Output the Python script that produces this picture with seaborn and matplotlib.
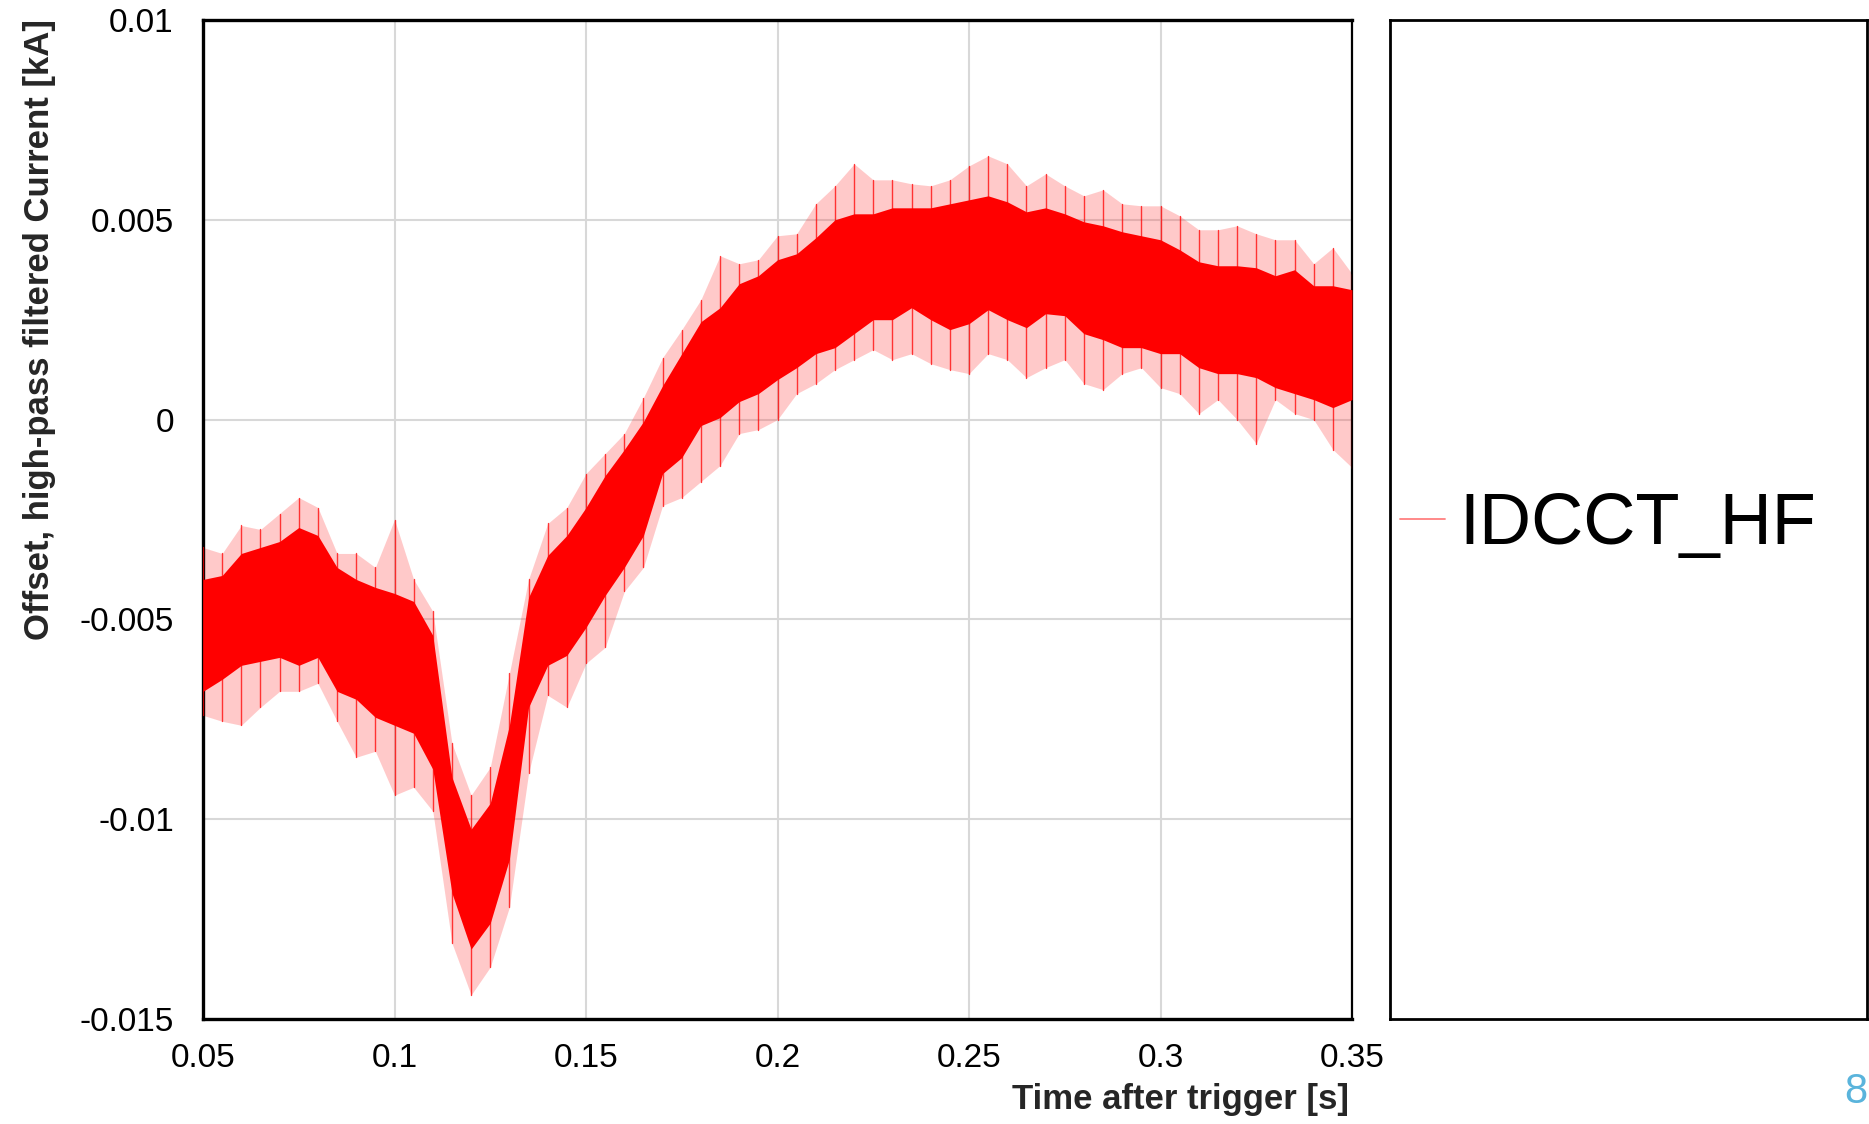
import numpy as np
import pandas as pd
import matplotlib
matplotlib.use("Agg")
import matplotlib.pyplot as plt
import seaborn as sns
from matplotlib.ticker import MultipleLocator

# ---------------- data (kA) ----------------
time_s = [0.050, 0.055, 0.060, 0.065, 0.070, 0.075, 0.080, 0.085, 0.090, 0.095,
          0.100, 0.105, 0.110, 0.115, 0.120, 0.125, 0.130, 0.135, 0.140, 0.145,
          0.150, 0.155, 0.160, 0.165, 0.170, 0.175, 0.180, 0.185, 0.190, 0.195,
          0.200, 0.205, 0.210, 0.215, 0.220, 0.225, 0.230, 0.235, 0.240, 0.245,
          0.250, 0.255, 0.260, 0.265, 0.270, 0.275, 0.280, 0.285, 0.290, 0.295,
          0.300, 0.305, 0.310, 0.315, 0.320, 0.325, 0.330, 0.335, 0.340, 0.345,
          0.350]

# outer extent of the noise spikes (upper)
spike_hi = [-0.00320, -0.00335, -0.00265, -0.00275, -0.00235, -0.00195, -0.00220, -0.00335, -0.00335, -0.00370,
            -0.00250, -0.00400, -0.00480, -0.00810, -0.00940, -0.00870, -0.00635, -0.00400, -0.00260, -0.00220,
            -0.00135, -0.00085, -0.00035, 0.00055, 0.00155, 0.00225, 0.00300, 0.00410, 0.00390, 0.00400,
            0.00460, 0.00465, 0.00540, 0.00585, 0.00640, 0.00600, 0.00600, 0.00590, 0.00585, 0.00600,
            0.00635, 0.00660, 0.00640, 0.00585, 0.00615, 0.00585, 0.00560, 0.00575, 0.00540, 0.00535,
            0.00535, 0.00510, 0.00475, 0.00475, 0.00485, 0.00465, 0.00450, 0.00450, 0.00390, 0.00430,
            0.00365]

# dense core of the trace (upper edge)
core_hi = [-0.00400, -0.00390, -0.00335, -0.00320, -0.00305, -0.00270, -0.00290, -0.00370, -0.00400, -0.00420,
           -0.00435, -0.00455, -0.00540, -0.00895, -0.01025, -0.00960, -0.00765, -0.00445, -0.00340, -0.00290,
           -0.00220, -0.00140, -0.00075, -0.00005, 0.00085, 0.00165, 0.00245, 0.00280, 0.00340, 0.00360,
           0.00400, 0.00415, 0.00455, 0.00500, 0.00515, 0.00515, 0.00530, 0.00530, 0.00530, 0.00540,
           0.00550, 0.00560, 0.00545, 0.00520, 0.00530, 0.00515, 0.00495, 0.00485, 0.00470, 0.00460,
           0.00450, 0.00425, 0.00395, 0.00385, 0.00385, 0.00380, 0.00360, 0.00375, 0.00335, 0.00335,
           0.00325]

# dense core of the trace (lower edge)
core_lo = [-0.00680, -0.00650, -0.00615, -0.00605, -0.00595, -0.00615, -0.00595, -0.00680, -0.00700, -0.00745,
           -0.00765, -0.00785, -0.00875, -0.01185, -0.01325, -0.01260, -0.01100, -0.00720, -0.00615, -0.00590,
           -0.00520, -0.00440, -0.00370, -0.00290, -0.00135, -0.00095, -0.00015, 0.00005, 0.00045, 0.00065,
           0.00100, 0.00130, 0.00165, 0.00180, 0.00215, 0.00250, 0.00250, 0.00280, 0.00250, 0.00225,
           0.00240, 0.00275, 0.00250, 0.00230, 0.00265, 0.00260, 0.00215, 0.00200, 0.00180, 0.00180,
           0.00165, 0.00165, 0.00130, 0.00115, 0.00115, 0.00105, 0.00080, 0.00065, 0.00050, 0.00030,
           0.00050]

# outer extent of the noise spikes (lower)
spike_lo = [-0.00740, -0.00755, -0.00765, -0.00720, -0.00680, -0.00680, -0.00660, -0.00755, -0.00845, -0.00830,
            -0.00940, -0.00920, -0.00980, -0.01310, -0.01440, -0.01370, -0.01220, -0.00885, -0.00690, -0.00720,
            -0.00610, -0.00570, -0.00430, -0.00370, -0.00215, -0.00195, -0.00155, -0.00115, -0.00035, -0.00025,
            0.00000, 0.00065, 0.00090, 0.00125, 0.00150, 0.00175, 0.00150, 0.00165, 0.00140, 0.00125,
            0.00115, 0.00165, 0.00150, 0.00105, 0.00130, 0.00150, 0.00090, 0.00075, 0.00115, 0.00130,
            0.00080, 0.00065, 0.00015, 0.00050, 0.00000, -0.00060, 0.00050, 0.00015, 0.00000, -0.00075,
            -0.00120]

series_label = "IDCCT_HF"
x_ticks = [0.05, 0.1, 0.15, 0.2, 0.25, 0.3, 0.35]
x_tick_labels = ["0.05", "0.1", "0.15", "0.2", "0.25", "0.3", "0.35"]
y_ticks = [-0.015, -0.01, -0.005, 0, 0.005, 0.01]
y_tick_labels = ["-0.015", "-0.01", "-0.005", "0", "0.005", "0.01"]
x_label = "Time after trigger [s]"
y_label = "Offset, high-pass filtered Current [kA]"
slide_number = "8"

# ---------------- figure ----------------
sns.set_theme(style="white")
plt.rcParams["font.family"] = ["Liberation Sans", "DejaVu Sans"]

W, H = 1869, 1124
fig = plt.figure(figsize=(W / 100, H / 100), dpi=100)
fig.patch.set_facecolor("white")

ax_l, ax_r, ax_t, ax_b = 203, 1352, 20, 1019
ax = fig.add_axes([ax_l / W, 1 - ax_b / H, (ax_r - ax_l) / W, (ax_b - ax_t) / H])

# envelope bands
ax.fill_between(time_s, spike_lo, spike_hi, color="#ff4040", alpha=0.28, lw=0, zorder=2)
ax.fill_between(time_s, core_lo, core_hi, color="#ff0000", lw=0, zorder=3)

# the measured trace: vertical swing between the read extremes at each sample
seg_t, seg_v, seg_u = [], [], []
for i, t in enumerate(time_s):
    seg_t += [t, t]
    seg_v += [spike_lo[i], spike_hi[i]]
    seg_u += [i, i]
df = pd.DataFrame({"t": seg_t, "v": seg_v, "u": seg_u})
sns.lineplot(data=df, x="t", y="v", units="u", estimator=None, sort=False,
             color="#ff0000", lw=1.0, alpha=0.75, ax=ax, zorder=4, legend=False)

ax.set_xlim(0.05, 0.35)
ax.set_ylim(-0.015, 0.01)
ax.set_xticks(x_ticks)
ax.set_xticklabels(x_tick_labels)
ax.set_yticks(y_ticks)
ax.set_yticklabels(y_tick_labels)
ax.xaxis.set_minor_locator(MultipleLocator(0.025))
ax.yaxis.set_minor_locator(MultipleLocator(0.0025))
ax.grid(True, which="major", color="#d8d8d8", lw=1.5, zorder=0)
ax.set_axisbelow(True)

ax.tick_params(axis="both", which="major", direction="inout", length=22, width=2.2,
               labelsize=24, colors="black")
ax.tick_params(axis="both", which="minor", direction="inout", length=12, width=2)
ax.tick_params(axis="y", which="major", pad=10)
ax.tick_params(axis="x", which="major", pad=6)
for side in ["left", "bottom", "top"]:
    ax.spines[side].set_linewidth(2.4)
    ax.spines[side].set_color("black")
ax.spines["right"].set_linewidth(1.6)
ax.spines["right"].set_color("black")

ax.set_xlabel(x_label, fontsize=25, fontweight="bold", loc="right")
ax.xaxis.set_label_coords(0.997, -0.064)
ax.set_ylabel(y_label, fontsize=25, fontweight="bold")
ax.yaxis.set_label_coords(-0.128, 0.69)

# legend panel
lg_l = 1390
ax2 = fig.add_axes([lg_l / W, 1 - ax_b / H, (W - 2 - lg_l) / W, (ax_b - ax_t) / H])
ax2.set_xticks([])
ax2.set_yticks([])
ax2.set_facecolor("white")
for s in ax2.spines.values():
    s.set_linewidth(2.0)
    s.set_color("black")
handle = matplotlib.lines.Line2D([], [], color="#ff8080", lw=1.3)
leg = fig.legend([handle], [series_label], loc="center left",
                 bbox_to_anchor=(1400 / W, 1 - 526 / H), frameon=False,
                 fontsize=52, handlelength=0.62, handletextpad=0.2,
                 borderpad=0, borderaxespad=0, labelcolor="black")

fig.text(1867 / W, 1 - 1092 / H, slide_number, color="#5ab4dc", fontsize=30,
         ha="right", va="center")

fig.savefig("out.png", dpi=100, facecolor="white")
